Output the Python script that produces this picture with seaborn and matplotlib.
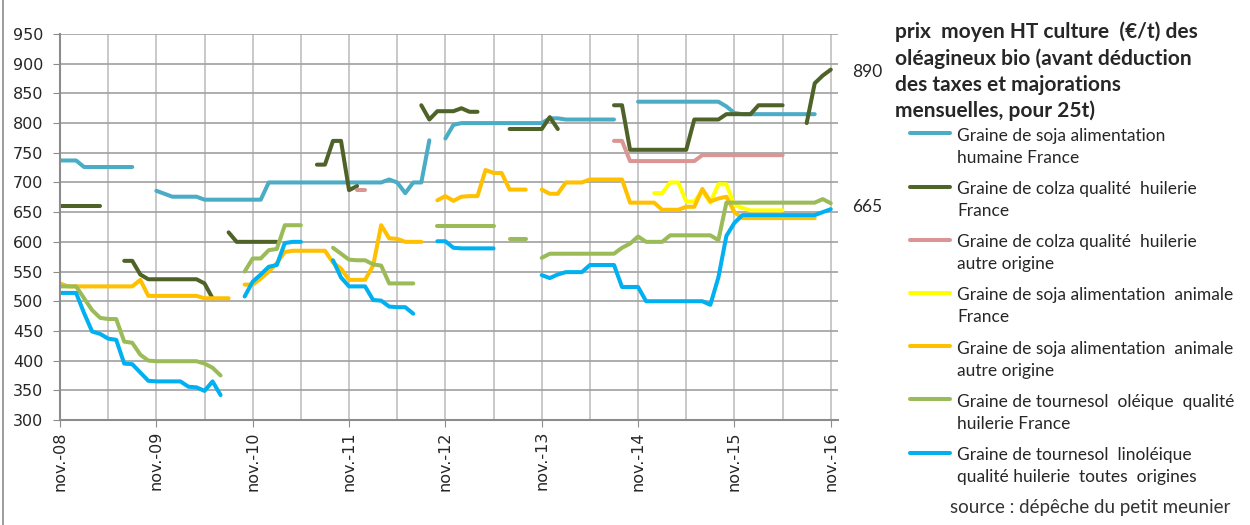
import numpy as np
import pandas as pd
import seaborn as sns
import matplotlib.pyplot as plt
from matplotlib.lines import Line2D

# --- data: monthly prices, month 0 = nov.-08 ; each series = list of (first month, values)
soja_humaine_fr = [
    (0, [737, 737, 737, 726, 726, 726, 726, 726, 726, 726]),
    (12, [686, 681, 676, 676, 676, 676, 671, 671, 671, 671, 671, 671, 671, 671,
          700, 700, 700, 700, 700, 700, 700, 700, 700, 700, 700, 700, 700, 700, 700,
          705, 700, 682, 700, 700, 771]),
    (48, [774, 797, 800, 800, 800, 800, 800, 800, 800, 800, 800, 800, 800,
          808, 808, 806, 806, 806, 806, 806, 806, 806]),
    (72, [836, 836, 836, 836, 836, 836, 836, 836, 836, 836, 836, 828, 817,
          815, 815, 815, 815, 815, 815, 815, 815, 815, 815]),
]
colza_fr = [
    (0, [660, 660, 660, 660, 660, 660]),
    (8, [568, 568, 545, 537, 537, 537, 537, 537, 537, 537, 530, 505]),
    (21, [616, 600, 600, 600, 600, 600, 600]),
    (32, [730, 730, 770, 770, 687, 694]),
    (45, [830, 806, 820, 820, 820, 825, 819, 819]),
    (56, [790, 790, 790, 790, 790, 810, 790]),
    (69, [830, 830, 755, 755, 755, 755, 755, 755, 755, 755, 806, 806, 806, 806,
          815, 815, 815, 815, 830, 830, 830, 830]),
    (93, [800, 867, 880, 890]),
]
colza_autre = [
    (37, [688, 688]),
    (69, [770, 770, 736, 736, 736, 736, 736, 736, 736, 736, 736,
          746, 746, 746, 746, 746, 746, 746, 746, 746, 746, 746]),
]
soja_animale_fr = [
    (74, [682, 682, 700, 700, 668, 668, 686, 666, 697, 697, 662, 657,
          653, 653, 653, 653, 653]),
]
soja_animale_autre = [
    (0, [530, 525, 525, 525, 525, 525, 525, 525, 525, 525, 536,
         509, 509, 509, 509, 509, 509, 509, 505, 505, 505, 505]),
    (23, [528, 528, 538, 550, 564, 583, 585, 585, 585, 585, 585, 565, 555,
          536, 536, 536, 560, 628, 606, 605, 600, 600, 600]),
    (47, [670, 677, 669, 676, 677, 677, 721, 716, 716, 688, 688, 688]),
    (60, [688, 681, 681, 700, 700, 700, 705, 705, 705, 705, 705, 666, 666, 666, 666,
          654, 654, 654, 659, 659, 689, 668, 673, 676, 650,
          640, 640, 640, 640, 640, 640, 640, 640, 640, 640]),
]
tournesol_oleique = [
    (0, [525, 525, 525, 505, 485, 472, 470, 470, 432, 430, 410, 400,
         399, 399, 399, 399, 399, 399, 395, 388, 375]),
    (23, [550, 572, 572, 586, 588, 628, 628, 628]),
    (34, [590, 580, 570, 569, 569, 562, 560, 530, 530, 530, 530]),
    (47, [626, 626, 626, 626, 626, 626, 626, 626]),
    (56, [605, 605, 605]),
    (60, [573, 580, 580, 580, 580, 580, 580, 580, 580, 580, 590, 597, 609, 600, 600, 600,
          611, 611, 611, 611, 611, 611, 603,
          666, 666, 666, 666, 666, 666, 666, 666, 666, 666, 666, 666, 672, 665]),
]
tournesol_linoleique = [
    (0, [514, 514, 514, 480, 449, 445, 437, 435, 395, 394, 380, 366,
         365, 365, 365, 365, 356, 355, 349, 365, 342]),
    (23, [508, 533, 545, 558, 561, 598, 600, 600]),
    (34, [569, 540, 525, 525, 525, 502, 501, 491, 490, 490, 479]),
    (47, [601, 601, 590, 589, 589, 589, 589, 589]),
    (60, [544, 539, 545, 549, 549, 549, 561, 561, 561, 561, 524, 524, 524,
          500, 500, 500, 500, 500, 500, 500, 500, 494, 540, 610, 632,
          645, 645, 645, 645, 645, 645, 645, 645, 645, 645, 650, 655]),
]

series_data = [soja_humaine_fr, colza_fr, colza_autre, soja_animale_fr,
               soja_animale_autre, tournesol_oleique, tournesol_linoleique]
legend_labels = [
    ["Graine de soja alimentation", "humaine France"],
    ["Graine de colza qualité  huilerie", "France"],
    ["Graine de colza qualité  huilerie", "autre origine"],
    ["Graine de soja alimentation  animale", "France"],
    ["Graine de soja alimentation  animale", "autre origine"],
    ["Graine de tournesol  oléique  qualité", "huilerie France"],
    ["Graine de tournesol  linoléique", "qualité huilerie  toutes  origines"],
]
colors = ["#4BACC6", "#4F6228", "#D99694", "#FFFF00", "#FFC000", "#9BBB59", "#00B0F0"]
tick_months = list(range(0, 97, 12))
tick_labels = ["nov.-08", "nov.-09", "nov.-10", "nov.-11", "nov.-12",
               "nov.-13", "nov.-14", "nov.-15", "nov.-16"]
end_labels = [(890, 72), (665, 207)]  # value, pixel y of the label

# --- long table for seaborn, one unit per continuous segment
rows = []
seg_id = 0
for i, segs in enumerate(series_data):
    for start, vals in segs:
        for k, v in enumerate(vals):
            rows.append({"mois": start + k, "prix": v, "serie": i, "seg": seg_id})
        seg_id += 1
df = pd.DataFrame(rows)

sns.set_style("white")
plt.rcParams["font.family"] = ["DejaVu Sans"]

W, H = 1250, 525
fig = plt.figure(figsize=(W / 100, H / 100), dpi=100)
fx = lambda px: px / W
fy = lambda py: 1 - py / H

ax = fig.add_axes([fx(60), fy(420), fx(838) - fx(60), fy(34) - fy(420)])

sns.lineplot(
    data=df, x="mois", y="prix", hue="serie", hue_order=list(range(7)),
    palette=colors, units="seg", estimator=None, sort=False,
    linewidth=2.9, legend=False, ax=ax, solid_capstyle="round",
)

ax.set_xlim(0, 96.9)
ax.set_ylim(300, 950)
ax.set_yticks(range(300, 951, 50))
ax.set_xticks(tick_months)
ax.set_xticklabels(tick_labels, rotation=90)
ax.set_xticks(range(6, 97, 12), minor=True)
ax.set_xlabel("")
ax.set_ylabel("")

ax.set_axisbelow(True)
ax.grid(axis="y", color="#A0A0A0", linewidth=1.2)
ax.grid(axis="x", which="both", color="#C0C0C0", linewidth=1.2)
for side in ["top", "right"]:
    ax.spines[side].set_visible(False)
for side in ["left", "bottom"]:
    ax.spines[side].set_color("#8C8C8C")
    ax.spines[side].set_linewidth(1.5)
ax.tick_params(axis="y", length=5, color="#8C8C8C", labelsize=11.5, pad=7, left=True)
ax.tick_params(axis="x", which="major", length=5, color="#8C8C8C", labelsize=11.5, pad=3, bottom=True)
ax.tick_params(axis="x", which="minor", length=0)

# end values
for val, py in end_labels:
    fig.text(fx(852), fy(py), str(val), fontsize=12.5, family="Lato", va="center")

# title
title_lines = ["prix  moyen HT culture  (€/t) des", "oléagineux bio (avant déduction",
               "des taxes et majorations", "mensuelles, pour 25t)"]
for j, line in enumerate(title_lines):
    fig.text(fx(895), fy(32 + 26.3 * j), line, fontsize=15, fontweight="bold",
             family="Lato", va="center")

# legend drawn by hand
for i, (lab, col) in enumerate(zip(legend_labels, colors)):
    y0 = 133.3 + 53.2 * i
    fig.add_artist(Line2D([fx(910), fx(950)], [fy(y0), fy(y0)], color=col,
                          linewidth=2.9, solid_capstyle="round"))
    fig.text(fx(957), fy(y0 + 2.5), lab[0], fontsize=12.5, family="Lato", va="center")
    fig.text(fx(957), fy(y0 + 24.5), lab[1], fontsize=12.5, family="Lato", va="center")

fig.text(fx(950), fy(508), "source : dépêche du petit meunier", fontsize=13.5,
         family="Lato", color="#333333", va="center")

# chart frame edge on the left
fig.add_artist(Line2D([fx(3), fx(3)], [0, 1], color="#8C8C8C", linewidth=1.2))

fig.savefig("out.png", dpi=100)
